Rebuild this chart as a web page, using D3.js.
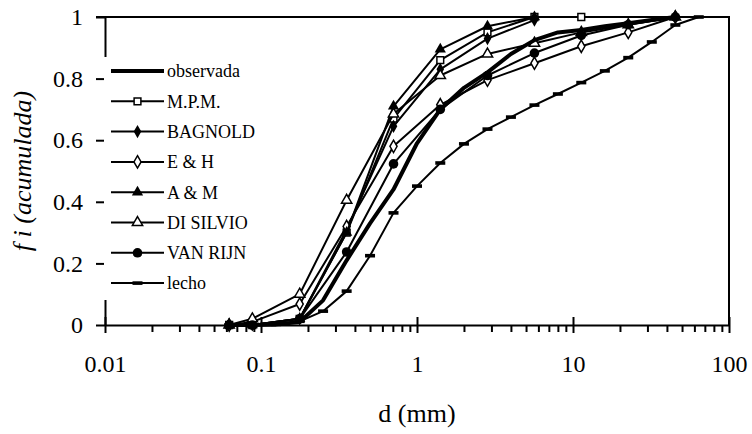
<!DOCTYPE html>
<html>
<head>
<meta charset="utf-8">
<script src="https://cdn.jsdelivr.net/npm/d3@7"></script>
<style>
    body { margin: 0; background: #fff; }
    svg text { font-family: "Liberation Serif", "Times New Roman", serif; fill: #000; }
</style>
</head>
<body>
<div id="chart"></div>
<script>
// sieve sizes (mm)
const sizesHalfPhi = [0.0625, 0.088, 0.125, 0.177, 0.25, 0.354, 0.5, 0.707, 1.0, 1.41, 2.0, 2.83, 4.0, 5.66, 8.0, 11.3, 16, 22.6, 32, 45.3, 64];
const sizesModel = [0.0625, 0.088, 0.177, 0.354, 0.707, 1.41, 2.83, 5.66, 11.3, 22.6, 45.3];

const observada = [0, 0, 0.002, 0.01, 0.08, 0.21, 0.33, 0.44, 0.59, 0.70, 0.77, 0.82, 0.88, 0.925, 0.95, 0.958, 0.97, 0.98, 0.99, 1.0];
const mpm = [0, 0, 0.02, 0.30, 0.67, 0.86, 0.95, 1.0, 1.0];
const bagnold = [0, 0, 0.02, 0.31, 0.645, 0.83, 0.93, 0.99];
const eh = [0, 0.01, 0.068, 0.32, 0.58, 0.715, 0.795, 0.85, 0.905, 0.95, 1.0];
const am = [0, 0, 0.02, 0.30, 0.71, 0.895, 0.97, 1.0];
const diSilvio = [0, 0.02, 0.10, 0.405, 0.685, 0.81, 0.88, 0.915, 0.95, 0.975, 1.0];
const vanRijn = [0, 0, 0.02, 0.237, 0.523, 0.70, 0.81, 0.883, 0.94, 0.975, 1.0];
const lecho = [0, 0, 0.002, 0.012, 0.045, 0.11, 0.225, 0.364, 0.451, 0.526, 0.588, 0.636, 0.675, 0.714, 0.75, 0.787, 0.825, 0.868, 0.919, 0.974, 1.0];

const seriesNames = ["observada", "M.P.M.", "BAGNOLD", "E & H", "A & M", "DI SILVIO", "VAN RIJN", "lecho"];
const xTicks = [0.01, 0.1, 1, 10, 100];
const xTickLabels = ["0.01", "0.1", "1", "10", "100"];
const yTicks = [0, 0.2, 0.4, 0.6, 0.8, 1];
const yTickLabels = ["0", "0.2", "0.4", "0.6", "0.8", "1"];

const WIDTH = 752, HEIGHT = 434;
const SERIF = "'Liberation Serif', 'Times New Roman', serif";
const plot = { left: 105, right: 729, top: 17, bottom: 325 };

const series = [
    { name: seriesNames[0], xs: sizesHalfPhi, ys: observada, marker: null, width: 4 },
    { name: seriesNames[1], xs: sizesModel, ys: mpm, marker: "square", width: 2 },
    { name: seriesNames[2], xs: sizesModel, ys: bagnold, marker: "diamondFilled", width: 2 },
    { name: seriesNames[3], xs: sizesModel, ys: eh, marker: "diamondOpen", width: 2 },
    { name: seriesNames[4], xs: sizesModel, ys: am, marker: "triangleFilled", width: 2 },
    { name: seriesNames[5], xs: sizesModel, ys: diSilvio, marker: "triangleOpen", width: 2 },
    { name: seriesNames[6], xs: sizesModel, ys: vanRijn, marker: "circle", width: 2 },
    { name: seriesNames[7], xs: sizesHalfPhi, ys: lecho, marker: "dash", width: 2 }
];

let svg = d3.select("#chart")
    .append("svg")
        .attr("width", WIDTH)
        .attr("height", HEIGHT)
        .attr("font-family", SERIF);

let scaleX = d3.scaleLog().domain([0.01, 100]).range([plot.left, plot.right]);
let scaleY = d3.scaleLinear().domain([0, 1]).range([plot.bottom, plot.top]);

function drawAxes() {
    // frame top + right
    svg.append("path")
        .attr("d", `M${plot.left - 9},${plot.top}H${plot.right}V${plot.bottom}`)
        .attr("fill", "none")
        .attr("stroke", "#000")
        .attr("stroke-width", 2);

    // minor ticks on x
    let minor = [];
    for (let dec = 0.01; dec < 100; dec *= 10) {
        for (let k = 2; k <= 9; k++) minor.push(dec * k);
    }
    svg.append("g")
        .attr("transform", `translate(0, ${plot.bottom})`)
        .call(d3.axisBottom(scaleX).tickValues(minor).tickSize(7).tickFormat(""))
        .call(g => g.select(".domain").remove())
        .selectAll("line").attr("stroke-width", 2);

    let gx = svg.append("g")
        .attr("transform", `translate(0, ${plot.bottom})`)
        .attr("font-family", SERIF)
        .call(d3.axisBottom(scaleX)
            .tickValues(xTicks)
            .tickSizeInner(8)
            .tickSizeOuter(0)
            .tickPadding(22)
            .tickFormat((d, i) => xTickLabels[i]));
    gx.attr("font-family", SERIF).attr("font-size", 24);
    gx.select(".domain").attr("stroke-width", 2);
    gx.selectAll(".tick line").attr("y1", -8).attr("stroke-width", 2);

    let gy = svg.append("g")
        .attr("transform", `translate(${plot.left}, 0)`)
        .call(d3.axisLeft(scaleY)
            .tickValues(yTicks)
            .tickSizeInner(9)
            .tickSizeOuter(0)
            .tickPadding(13)
            .tickFormat((d, i) => yTickLabels[i]));
    gy.attr("font-family", SERIF).attr("font-size", 24);
    gy.select(".domain").attr("stroke-width", 2);
    gy.selectAll(".tick line").attr("stroke-width", 2);

    svg.append("text")
        .attr("x", (plot.left + plot.right) / 2)
        .attr("y", 422)
        .attr("text-anchor", "middle")
        .attr("font-size", 26)
        .text("d (mm)");

    svg.append("text")
        .attr("transform", `translate(31, ${(plot.top + plot.bottom) / 2}) rotate(-90)`)
        .attr("text-anchor", "middle")
        .attr("font-size", 26)
        .attr("font-style", "italic")
        .text("f i (acumulada)");
}

function drawMarker(g, type, x, y) {
    let m = null;
    switch (type) {
        case "square":
            m = g.append("path").attr("d", d3.symbol(d3.symbolSquare, 46)())
                .attr("fill", "#fff").attr("stroke", "#000").attr("stroke-width", 1.5);
            break;
        case "diamondFilled":
            m = g.append("path").attr("d", d3.symbol(d3.symbolDiamond, 50)())
                .attr("fill", "#000");
            break;
        case "diamondOpen":
            m = g.append("path").attr("d", d3.symbol(d3.symbolDiamond, 44)())
                .attr("fill", "#fff").attr("stroke", "#000").attr("stroke-width", 1.5);
            break;
        case "triangleFilled":
            m = g.append("path").attr("d", d3.symbol(d3.symbolTriangle, 55)())
                .attr("fill", "#000");
            break;
        case "triangleOpen":
            m = g.append("path").attr("d", d3.symbol(d3.symbolTriangle, 46)())
                .attr("fill", "#fff").attr("stroke", "#000").attr("stroke-width", 1.5);
            break;
        case "circle":
            m = g.append("circle").attr("r", 4.8).attr("fill", "#000");
            break;
        case "dash":
            m = g.append("rect").attr("x", -5).attr("y", -1.8).attr("width", 10).attr("height", 3.6)
                .attr("fill", "#000");
            break;
    }
    if (m) m.attr("transform", `translate(${x}, ${y})`);
}

function plotSeries() {
    let line = d3.line().x(d => scaleX(d[0])).y(d => scaleY(d[1]));
    // lecho first, observada last
    let order = [7, 1, 2, 3, 4, 5, 6, 0];
    order.forEach(i => {
        let s = series[i];
        let pts = s.ys.map((v, j) => [s.xs[j], v]);
        let g = svg.append("g");
        g.append("path")
            .datum(pts)
            .attr("d", line)
            .attr("fill", "none")
            .attr("stroke", "#000")
            .attr("stroke-width", s.width)
            .attr("stroke-linejoin", "round");
        if (s.marker) {
            pts.forEach(p => drawMarker(g, s.marker, scaleX(p[0]), scaleY(p[1])));
        }
    });
}

function drawLegend() {
    svg.append("rect")
        .attr("x", 104)
        .attr("y", 57)
        .attr("width", 158)
        .attr("height", 243)
        .attr("fill", "#fff");

    series.forEach((s, i) => {
        let y = 71 + i * 30.3;
        let g = svg.append("g");
        g.append("line")
            .attr("x1", 111).attr("x2", 164)
            .attr("y1", y).attr("y2", y)
            .attr("stroke", "#000")
            .attr("stroke-width", s.width);
        if (s.marker) drawMarker(g, s.marker, 137.5, y);
        g.append("text")
            .attr("x", 167)
            .attr("y", y)
            .attr("dy", "0.35em")
            .attr("font-size", 18)
            .text(s.name);
    });
}

drawAxes();
plotSeries();
drawLegend();
</script>
</body>
</html>
